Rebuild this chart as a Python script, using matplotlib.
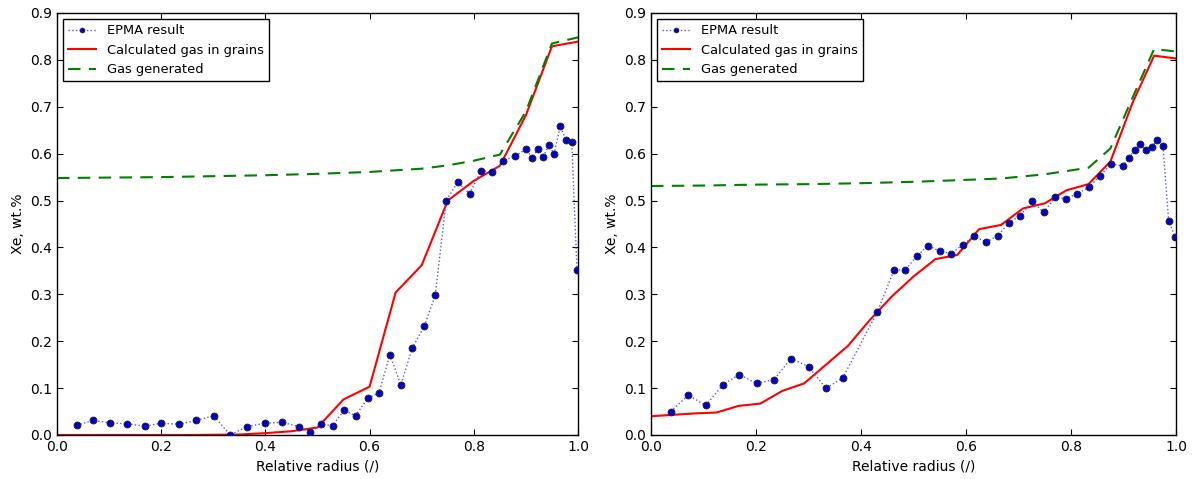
import matplotlib
matplotlib.use("Agg")
import matplotlib.pyplot as plt

# ---------------- data: left panel ----------------
left_epma_x = [0.038, 0.069, 0.102, 0.134, 0.169, 0.200, 0.234, 0.267, 0.301, 0.332,
               0.365, 0.399, 0.432, 0.464, 0.486, 0.507, 0.529, 0.551, 0.573, 0.596,
               0.618, 0.639, 0.660, 0.682, 0.705, 0.726, 0.747, 0.769, 0.792, 0.814,
               0.835, 0.857, 0.879, 0.901, 0.912, 0.923, 0.933, 0.944, 0.954, 0.966,
               0.977, 0.988, 0.998]
left_epma_y = [0.021, 0.031, 0.026, 0.024, 0.019, 0.025, 0.023, 0.031, 0.041, 0.000,
               0.018, 0.025, 0.027, 0.018, 0.006, 0.023, 0.020, 0.053, 0.041, 0.078,
               0.090, 0.171, 0.107, 0.186, 0.232, 0.298, 0.500, 0.539, 0.515, 0.564,
               0.560, 0.585, 0.595, 0.610, 0.591, 0.610, 0.593, 0.618, 0.600, 0.658,
               0.629, 0.624, 0.352]
left_calc_x = [0.0, 0.05, 0.10, 0.15, 0.20, 0.25, 0.30, 0.35, 0.40, 0.45, 0.50,
               0.55, 0.60, 0.65, 0.70, 0.75, 0.80, 0.85, 0.90, 0.95, 1.0]
left_calc_y = [0.0, 0.0, 0.0, 0.0, 0.0, 0.0, 0.0005, 0.001, 0.004, 0.008, 0.016,
               0.076, 0.103, 0.304, 0.362, 0.500, 0.542, 0.574, 0.682, 0.829, 0.839]
left_gen_x = [0.0, 0.1, 0.2, 0.3, 0.4, 0.5, 0.6, 0.7, 0.75, 0.8, 0.85, 0.9, 0.95, 1.0]
left_gen_y = [0.548, 0.549, 0.550, 0.552, 0.554, 0.557, 0.561, 0.568, 0.575, 0.585,
              0.598, 0.690, 0.835, 0.848]

# ---------------- data: right panel ----------------
right_epma_x = [0.0375, 0.071, 0.104, 0.137, 0.168, 0.201, 0.234, 0.267, 0.300, 0.333,
                0.365, 0.431, 0.463, 0.484, 0.507, 0.528, 0.550, 0.572, 0.594, 0.616,
                0.638, 0.660, 0.682, 0.703, 0.726, 0.748, 0.770, 0.791, 0.812, 0.834,
                0.855, 0.877, 0.899, 0.910, 0.921, 0.931, 0.942, 0.954, 0.964, 0.975,
                0.986, 0.998]
right_epma_y = [0.050, 0.085, 0.063, 0.107, 0.129, 0.110, 0.118, 0.163, 0.146, 0.100,
                0.121, 0.262, 0.352, 0.352, 0.382, 0.404, 0.392, 0.387, 0.406, 0.424,
                0.411, 0.425, 0.452, 0.468, 0.498, 0.475, 0.507, 0.504, 0.515, 0.528,
                0.553, 0.578, 0.574, 0.591, 0.608, 0.621, 0.607, 0.615, 0.630, 0.617,
                0.457, 0.423]
right_calc_x = [0.0, 0.0417, 0.0833, 0.125, 0.1667, 0.2083, 0.25, 0.2917, 0.3333,
                0.375, 0.4167, 0.4583, 0.5, 0.5417, 0.5833, 0.625, 0.6667, 0.7083,
                0.75, 0.7917, 0.8333, 0.875, 0.9167, 0.9583, 1.0]
right_calc_y = [0.040, 0.043, 0.046, 0.048, 0.062, 0.067, 0.094, 0.110, 0.150,
                0.190, 0.245, 0.295, 0.338, 0.375, 0.384, 0.439, 0.448, 0.483,
                0.494, 0.522, 0.535, 0.583, 0.707, 0.809, 0.803]
right_gen_x = [0.0, 0.1, 0.2, 0.3, 0.4, 0.5, 0.55, 0.6667, 0.75, 0.8333, 0.875,
               0.9167, 0.9583, 1.0]
right_gen_y = [0.531, 0.532, 0.534, 0.535, 0.537, 0.540, 0.542, 0.547, 0.556, 0.570,
               0.611, 0.718, 0.823, 0.818]

labels = ["EPMA result", "Calculated gas in grains", "Gas generated"]
x_ticks = [0.0, 0.2, 0.4, 0.6, 0.8, 1.0]
y_ticks = [0.0, 0.1, 0.2, 0.3, 0.4, 0.5, 0.6, 0.7, 0.8, 0.9]

plt.rcParams['font.family'] = ['DejaVu Sans']
plt.rcParams['font.size'] = 10

fig = plt.figure(figsize=(11.95, 4.79), dpi=100)
ax1 = fig.add_axes([57/1195, 44/479, 521/1195, 422/479])
ax2 = fig.add_axes([651/1195, 44/479, 525/1195, 422/479])

panels = [
    (ax1, left_epma_x, left_epma_y, left_calc_x, left_calc_y, left_gen_x, left_gen_y),
    (ax2, right_epma_x, right_epma_y, right_calc_x, right_calc_y, right_gen_x, right_gen_y),
]

for ax, ex, ey, cx, cy, gx, gy in panels:
    # dotted connecting line (lighter) and markers drawn separately
    ax.plot(ex, ey, linestyle=':', color='#5555ff', linewidth=1.0, zorder=3)
    ax.plot(ex, ey, linestyle='none', marker='o', markersize=5,
            markerfacecolor='#0000cc', markeredgecolor='#222222',
            markeredgewidth=0.6, zorder=4)
    ax.plot(cx, cy, linestyle='-', color='red', linewidth=1.5, zorder=2)
    ax.plot(gx, gy, linestyle='--', color='green', linewidth=1.5,
            dashes=(6, 4), zorder=2)
    # legend proxies
    h1, = ax.plot([], [], linestyle=':', color='#5555ff', linewidth=1.0, marker='o',
                  markersize=3.5, markerfacecolor='#0000cc', markeredgecolor='#222222',
                  markeredgewidth=0.5)
    h2, = ax.plot([], [], linestyle='-', color='red', linewidth=1.5)
    h3, = ax.plot([], [], linestyle='--', color='green', linewidth=1.5, dashes=(6, 4))
    ax.set_xlim(0, 1)
    ax.set_ylim(0, 0.9)
    ax.set_xticks(x_ticks)
    ax.set_yticks(y_ticks)
    ax.tick_params(direction='in', top=True, right=True, length=4, width=0.8,
                   labelsize=10)
    ax.set_xlabel("Relative radius (/)", fontsize=10)
    ax.set_ylabel("Xe, wt.%", fontsize=10)
    for s in ax.spines.values():
        s.set_linewidth(1.0)
        s.set_color('black')
    leg = ax.legend([h1, h2, h3], labels, loc='upper left', numpoints=1,
                    fancybox=False, fontsize=9.4, framealpha=1, edgecolor='black',
                    borderaxespad=0.45, handlelength=2.15, borderpad=0.4,
                    labelspacing=0.5, handletextpad=0.8)
    leg.get_frame().set_linewidth(1.0)

fig.savefig("out.png", dpi=100)
